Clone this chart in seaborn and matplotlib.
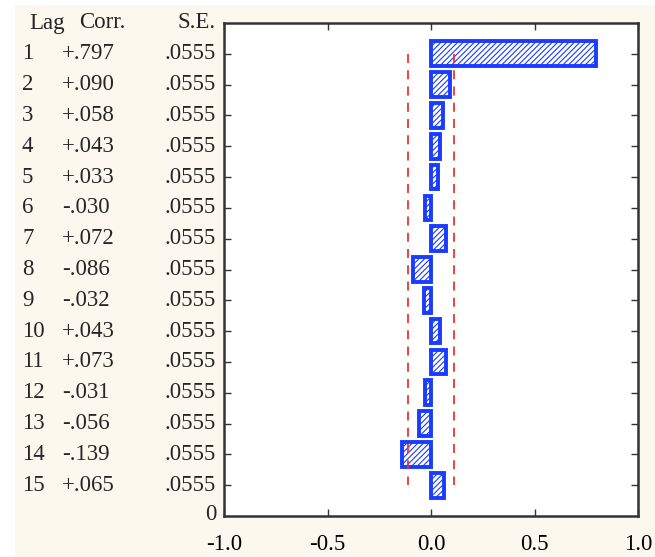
import matplotlib
matplotlib.use("Agg")
import matplotlib.pyplot as plt
import matplotlib.transforms as mtransforms
from matplotlib.patches import Rectangle
import seaborn as sns
import pandas as pd

lags = list(range(1, 16))
corr = [0.797, 0.090, 0.058, 0.043, 0.033, -0.030, 0.072, -0.086, -0.032,
        0.043, 0.073, -0.031, -0.056, -0.139, 0.065]
corr_labels = ["+.797", "+.090", "+.058", "+.043", "+.033", "-.030", "+.072", "-.086",
               "-.032", "+.043", "+.073", "-.031", "-.056", "-.139", "+.065"]
se_labels = [".0555"] * 15
se = 0.0555
x_ticks = [-1.0, -0.5, 0.0, 0.5, 1.0]
x_tick_labels = ["-1.0", "-0.5", "0.0", "0.5", "1.0"]

sns.set_style("white")
plt.rcParams["font.family"] = ["Liberation Serif", "DejaVu Serif"]
plt.rcParams["hatch.color"] = "#5a72ff"
plt.rcParams["hatch.linewidth"] = 0.8

W, H = 655, 557
fig = plt.figure(figsize=(W / 100, H / 100), dpi=100, facecolor="white")
fig.patches.append(Rectangle((15 / W, 0), 1 - 15 / W, (H - 5) / H,
                             transform=fig.transFigure, facecolor="#fdf8ee",
                             edgecolor="none", zorder=-10))
ax = fig.add_axes([224 / W, 1 - 516 / H, (638 - 224) / W, (516 - 23) / H])
ax.set_facecolor("white")

df = pd.DataFrame({"lag": lags, "corr": corr})
sns.barplot(data=df, x="corr", y="lag", orient="h", native_scale=True,
            width=0.8, color="white", edgecolor="#1a3cff", linewidth=2.8,
            ax=ax, zorder=3)
for p in ax.patches:
    p.set_hatch("//////")
    p.set_facecolor("white")
    p.set_edgecolor("#1a3cff")

lim = 1.96 * se
ax.plot([-lim, -lim], [1, 15], color="#ee3333", ls=(0, (5, 4)), lw=1.3, zorder=4)
ax.plot([lim, lim], [1, 15], color="#ee3333", ls=(0, (5, 4)), lw=1.3, zorder=4)

fs = 16.5
ax.set_xlim(-1.0, 1.0)
ax.set_ylim(16, 0)
ax.set_xticks(x_ticks)
ax.set_xticklabels(x_tick_labels, fontsize=fs)
ax.set_yticks(lags)
ax.set_yticklabels([])
ax.set_xlabel("")
ax.set_ylabel("")
ax.tick_params(axis="both", direction="in", length=5, width=1, color="#333333",
               labelcolor="black", top=True, right=True, bottom=True, left=True)
ax.tick_params(axis="x", pad=13)
for s in ax.spines.values():
    s.set_visible(True)
    s.set_color("#333333")
    s.set_linewidth(1.8)

trans = mtransforms.blended_transform_factory(fig.transFigure, ax.transData)
for i, lag in enumerate(lags):
    ax.text(22 / W, lag, str(lag), transform=trans, ha="left", va="center", fontsize=fs, clip_on=False)
    ax.text(62 / W, lag, corr_labels[i], transform=trans, ha="left", va="center", fontsize=fs, clip_on=False)
    ax.text(216 / W, lag, se_labels[i], transform=trans, ha="right", va="center", fontsize=fs, clip_on=False)
ax.text(216 / W, 15.95, "0", transform=trans, ha="right", va="center", fontsize=fs, clip_on=False)
ax.text(29 / W, 0, "Lag", transform=trans, ha="left", va="center", fontsize=fs, clip_on=False)
ax.text(79 / W, 0, "Corr.", transform=trans, ha="left", va="center", fontsize=fs, clip_on=False)
ax.text(216 / W, 0, "S.E.", transform=trans, ha="right", va="center", fontsize=fs, clip_on=False)

fig.savefig("out.png", dpi=100, facecolor=fig.get_facecolor())
